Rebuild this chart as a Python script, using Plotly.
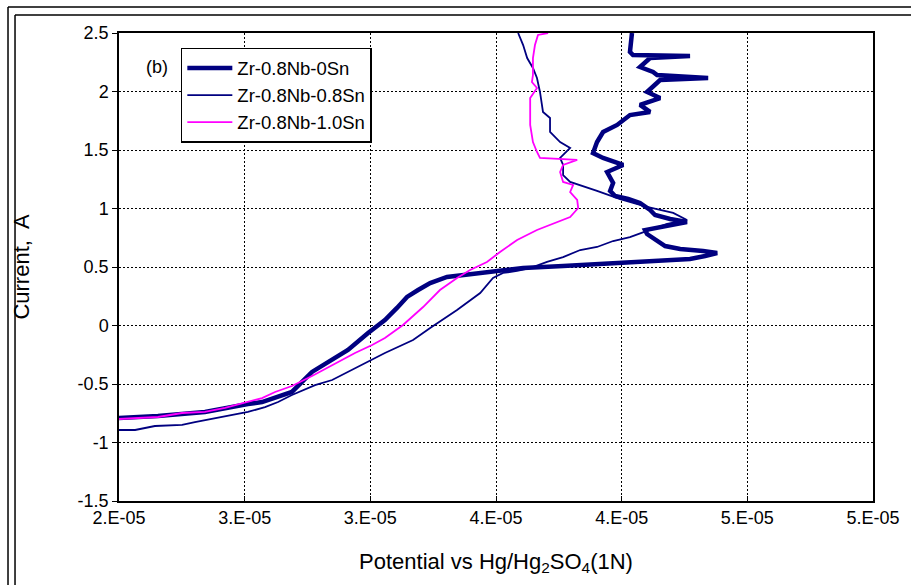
import plotly.graph_objects as go

# Zr-0.8Nb-0Sn (thick navy)
pot_0sn = [2.000e-5, 2.155e-5, 2.342e-5, 2.422e-5, 2.513e-5, 2.569e-5, 2.621e-5, 2.688e-5, 2.768e-5, 2.848e-5,
           2.911e-5, 2.991e-5, 3.058e-5, 3.106e-5, 3.146e-5, 3.190e-5, 3.238e-5, 3.305e-5, 3.397e-5, 3.504e-5,
           3.608e-5, 3.767e-5, 3.966e-5, 4.153e-5, 4.272e-5, 4.332e-5, 4.380e-5, 4.324e-5, 4.233e-5, 4.173e-5,
           4.133e-5, 4.101e-5, 4.093e-5, 4.153e-5, 4.221e-5, 4.260e-5, 4.193e-5, 4.133e-5, 4.113e-5, 4.073e-5,
           4.026e-5, 3.974e-5, 3.954e-5, 3.966e-5, 3.942e-5, 4.006e-5, 3.926e-5, 3.886e-5, 3.902e-5, 3.926e-5,
           3.982e-5, 4.033e-5, 4.113e-5, 4.073e-5, 4.153e-5, 4.101e-5, 4.153e-5, 4.344e-5, 4.141e-5, 4.125e-5,
           4.073e-5, 4.113e-5, 4.272e-5, 4.045e-5, 4.033e-5, 4.041e-5]
cur_0sn = [-0.791, -0.774, -0.739, -0.705, -0.671, -0.654, -0.620, -0.568, -0.397, -0.295,
           -0.209, -0.064, 0.047, 0.150, 0.244, 0.303, 0.363, 0.415, 0.440, 0.466,
           0.491, 0.509, 0.534, 0.551, 0.568, 0.594, 0.620, 0.637, 0.654, 0.679,
           0.731, 0.782, 0.816, 0.842, 0.868, 0.885, 0.910, 0.944, 0.987, 1.047,
           1.081, 1.107, 1.150, 1.218, 1.312, 1.372, 1.432, 1.474, 1.568, 1.654,
           1.714, 1.799, 1.825, 1.885, 1.944, 1.996, 2.098, 2.115, 2.141, 2.167,
           2.209, 2.286, 2.303, 2.312, 2.338, 2.500]

# Zr-0.8Nb-0.8Sn (thin navy)
pot_08sn = [2.000e-5, 2.064e-5, 2.143e-5, 2.251e-5, 2.302e-5, 2.382e-5, 2.450e-5, 2.513e-5, 2.581e-5, 2.633e-5,
            2.688e-5, 2.780e-5, 2.848e-5, 2.911e-5, 2.991e-5, 3.058e-5, 3.170e-5, 3.238e-5, 3.345e-5, 3.437e-5,
            3.488e-5, 3.528e-5, 3.584e-5, 3.636e-5, 3.703e-5, 3.767e-5, 3.835e-5, 3.902e-5, 3.966e-5, 4.033e-5,
            4.101e-5, 4.181e-5, 4.260e-5, 4.205e-5, 4.101e-5, 3.994e-5, 3.902e-5, 3.795e-5, 3.767e-5, 3.767e-5,
            3.755e-5, 3.795e-5, 3.755e-5, 3.715e-5, 3.715e-5, 3.687e-5, 3.675e-5, 3.663e-5, 3.647e-5, 3.624e-5,
            3.608e-5, 3.588e-5]
cur_08sn = [-0.893, -0.893, -0.859, -0.850, -0.825, -0.791, -0.765, -0.739, -0.697, -0.654,
            -0.594, -0.509, -0.466, -0.397, -0.312, -0.235, -0.124, -0.021, 0.132, 0.278,
            0.406, 0.449, 0.466, 0.491, 0.543, 0.585, 0.645, 0.671, 0.722, 0.756,
            0.808, 0.868, 0.902, 0.962, 1.013, 1.081, 1.150, 1.227, 1.286, 1.372,
            1.432, 1.517, 1.568, 1.654, 1.774, 1.825, 1.996, 2.115, 2.201, 2.286,
            2.397, 2.500]

# Zr-0.8Nb-1.0Sn (magenta)
pot_10sn = [2.000e-5, 2.155e-5, 2.251e-5, 2.342e-5, 2.422e-5, 2.513e-5, 2.569e-5, 2.621e-5, 2.688e-5, 2.768e-5,
            2.848e-5, 2.939e-5, 3.007e-5, 3.058e-5, 3.130e-5, 3.210e-5, 3.277e-5, 3.345e-5, 3.397e-5, 3.464e-5,
            3.516e-5, 3.584e-5, 3.663e-5, 3.743e-5, 3.795e-5, 3.827e-5, 3.823e-5, 3.795e-5, 3.807e-5, 3.767e-5,
            3.755e-5, 3.767e-5, 3.823e-5, 3.675e-5, 3.663e-5, 3.647e-5, 3.636e-5, 3.636e-5, 3.636e-5, 3.663e-5,
            3.643e-5, 3.647e-5, 3.647e-5, 3.655e-5, 3.667e-5, 3.707e-5]
cur_10sn = [-0.799, -0.782, -0.748, -0.739, -0.705, -0.654, -0.620, -0.568, -0.517, -0.432,
            -0.338, -0.235, -0.167, -0.107, 0.004, 0.158, 0.303, 0.406, 0.474, 0.543,
            0.628, 0.731, 0.816, 0.885, 0.927, 1.004, 1.073, 1.141, 1.201, 1.227,
            1.312, 1.372, 1.415, 1.432, 1.483, 1.568, 1.714, 1.825, 1.944, 2.030,
            2.081, 2.141, 2.286, 2.397, 2.483, 2.500]

x_tickvals = [2.0e-5, 2.5e-5, 3.0e-5, 3.5e-5, 4.0e-5, 4.5e-5, 5.0e-5]
x_ticktext = ["2.E-05", "3.E-05", "3.E-05", "4.E-05", "4.E-05", "5.E-05", "5.E-05"]
y_tickvals = [-1.5, -1, -0.5, 0, 0.5, 1, 1.5, 2, 2.5]
y_ticktext = ["-1.5", "-1", "-0.5", "0", "0.5", "1", "1.5", "2", "2.5"]

FONT = "Liberation Sans, Arial, sans-serif"
NAVY = "#000080"
MAGENTA = "#FF00FF"

fig = go.Figure()
fig.add_trace(go.Scatter(x=pot_0sn, y=cur_0sn, mode="lines", name="Zr-0.8Nb-0Sn",
                         line=dict(color=NAVY, width=4.5)))
fig.add_trace(go.Scatter(x=pot_08sn, y=cur_08sn, mode="lines", name="Zr-0.8Nb-0.8Sn",
                         line=dict(color=NAVY, width=1.8)))
fig.add_trace(go.Scatter(x=pot_10sn, y=cur_10sn, mode="lines", name="Zr-0.8Nb-1.0Sn",
                         line=dict(color=MAGENTA, width=1.8)))

border = dict(color="black", width=1.5)
fig.update_layout(
    width=911, height=585,
    margin=dict(l=119, r=38, t=33, b=84),
    paper_bgcolor="white", plot_bgcolor="white",
    font=dict(family=FONT, color="black", size=18),
    showlegend=True,
    legend=dict(x=0.082, y=0.968, xanchor="left", yanchor="top",
                bgcolor="white", bordercolor="black", borderwidth=1.5,
                font=dict(family=FONT, size=18.5, color="black"),
                itemwidth=45, tracegroupgap=0),
    xaxis=dict(range=[2.0e-5, 5.0e-5], tickmode="array", tickvals=x_tickvals, ticktext=x_ticktext,
               showgrid=True, gridcolor="black", gridwidth=1, griddash="2px,2px",
               showline=True, linecolor="black", linewidth=1.5, mirror=True,
               ticks="inside", ticklen=5, tickcolor="black", zeroline=False,
               tickfont=dict(family=FONT, size=18),
               title=dict(text="Potential vs Hg/Hg<sub>2</sub>SO<sub>4</sub>(1N)",
                          font=dict(family=FONT, size=22), standoff=26)),
    yaxis=dict(range=[-1.5, 2.5], tickmode="array", tickvals=y_tickvals, ticktext=y_ticktext,
               showgrid=True, gridcolor="black", gridwidth=1, griddash="2px,2px",
               showline=True, linecolor="black", linewidth=1.5, mirror=True,
               ticks="outside", ticklen=5, tickcolor="black", zeroline=False,
               tickfont=dict(family=FONT, size=18),
               title=dict(text="Current,  A", font=dict(family=FONT, size=22), standoff=42)),
    annotations=[dict(text="(b)", x=0.05, y=0.927, xref="paper", yref="paper",
                      showarrow=False, font=dict(family=FONT, size=18), xanchor="center", yanchor="middle")],
    shapes=[
        dict(type="line", xref="paper", yref="paper", x0=-0.1472, x1=-0.1472, y0=-0.3, y1=1.0556, line=border),
        dict(type="line", xref="paper", yref="paper", x0=-0.1472, x1=1.2, y0=1.0556, y1=1.0556, line=border),
        dict(type="line", xref="paper", yref="paper", x0=-0.1379, x1=-0.1379, y0=-0.3, y1=1.0385, line=border),
        dict(type="line", xref="paper", yref="paper", x0=-0.1379, x1=1.2, y0=1.0385, y1=1.0385, line=border),
    ],
)

fig.write_html("out.html")
